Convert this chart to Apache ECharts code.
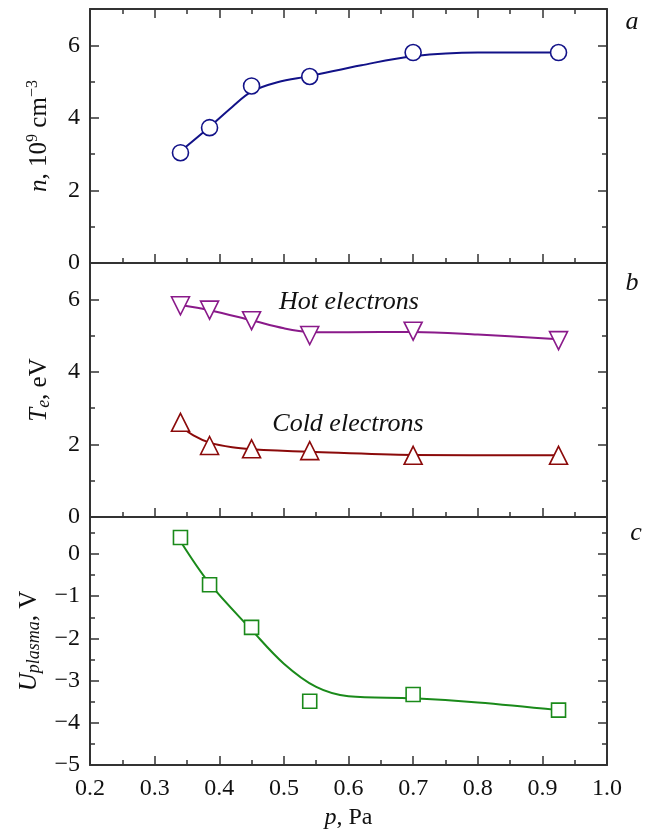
<!DOCTYPE html>
<html>
<head>
<meta charset="utf-8">
<script src="https://cdn.jsdelivr.net/npm/echarts@6/dist/echarts.min.js"></script>
<style>
  html, body { margin: 0; padding: 0; background: #fff; }
  #main { width: 647px; height: 832px; }
</style>
</head>
<body>
<div id="main"></div>
<script>
// measured points (pressure, Pa)
var pressure = [0.34, 0.385, 0.45, 0.54, 0.70, 0.925];
var density = [3.04, 3.73, 4.88, 5.14, 5.80, 5.80];
var hotTe = [5.82, 5.70, 5.41, 5.00, 5.12, 4.86];
var coldTe = [2.61, 1.97, 1.88, 1.83, 1.70, 1.70];
var uPlasma = [0.39, -0.73, -1.74, -3.49, -3.33, -3.70];

// fitted curves
var densityFitX = [0.34, 0.385, 0.42, 0.45, 0.49, 0.54, 0.62, 0.70, 0.80, 0.925];
var densityFitY = [3.08, 3.75, 4.30, 4.72, 4.98, 5.15, 5.45, 5.70, 5.80, 5.80];
var hotFitX = [0.34, 0.385, 0.45, 0.50, 0.54, 0.60, 0.70, 0.80, 0.925];
var hotFitY = [5.84, 5.70, 5.42, 5.20, 5.10, 5.09, 5.10, 5.03, 4.90];
var coldFitX = [0.34, 0.36, 0.385, 0.42, 0.45, 0.54, 0.70, 0.925];
var coldFitY = [2.50, 2.25, 2.05, 1.92, 1.87, 1.80, 1.71, 1.70];
var uFitX = [0.34, 0.385, 0.45, 0.50, 0.55, 0.60, 0.70, 0.80, 0.925];
var uFitY = [0.30, -0.70, -1.80, -2.60, -3.15, -3.37, -3.42, -3.52, -3.70];

var FONT = 'Liberation Serif';
var AXIS = '#333';
var cBlue = '#121288', cPurple = '#8a1a8a', cRed = '#8b0a0a', cGreen = '#1a8a1a';

function pairs(xs, ys) {
	return xs.map(function (x, i) { return [x, ys[i]]; });
}
function minus(v) {
	return String(v).replace('-', '\u2212');
}

var grids = [
	{ left: 90, right: 40, top: 9, height: 254, outerBoundsMode: 'none' },
	{ left: 90, right: 40, top: 263, height: 254, outerBoundsMode: 'none' },
	{ left: 90, right: 40, top: 517, height: 248, outerBoundsMode: 'none' }
];

var xAxes = [];
grids.forEach(function (g, i) {
	// bottom
	xAxes.push({
		type: 'value', gridIndex: i, position: 'bottom', min: 0.2, max: 1.0, interval: 0.1,
		axisLine: { onZero: false, lineStyle: { color: AXIS, width: 2 } },
		axisTick: { inside: true, length: 9, lineStyle: { color: AXIS, width: 1.5 } },
		minorTick: { show: true, splitNumber: 2, length: 5, lineStyle: { color: AXIS, width: 1.5 } },
		splitLine: { show: false },
		axisLabel: {
			show: i === 2, margin: 12, color: '#111', fontFamily: FONT, fontSize: 24,
			formatter: function (v) { return v.toFixed(1); }
		},
		name: i === 2 ? '{i|p}, Pa' : '',
		nameLocation: 'middle', nameGap: 41,
		nameTextStyle: { color: '#111', fontFamily: FONT, fontSize: 24, rich: { i: { fontStyle: 'italic', fontFamily: FONT, fontSize: 24 } } }
	});
	// top
	xAxes.push({
		type: 'value', gridIndex: i, position: 'top', min: 0.2, max: 1.0, interval: 0.1,
		axisLine: { onZero: false, lineStyle: { color: AXIS, width: 2 } },
		axisTick: { show: i === 0, inside: true, length: 9, lineStyle: { color: AXIS, width: 1.5 } },
		minorTick: { show: i === 0, splitNumber: 2, length: 5, lineStyle: { color: AXIS, width: 1.5 } },
		splitLine: { show: false },
		axisLabel: { show: false }
	});
});

var yRanges = [
	{ min: 0, max: 7, interval: 2, minor: 1 },
	{ min: 0, max: 7, interval: 2, minor: 1 },
	{ min: -5, max: 0.875, interval: 1, minor: 0.5 }
];
var yNames = [
	'{i|n}, 10{sup|9} cm{sup|\u22123}',
	'{i|T}{sub|e}, eV',
	'{i|U}{sub|plasma}, V'
];
var nameRich = {
	i: { fontStyle: 'italic', fontFamily: FONT, fontSize: 25, color: '#111' },
	sup: { fontFamily: FONT, fontSize: 16, verticalAlign: 'top', lineHeight: 15, color: '#111' },
	sub: { fontStyle: 'italic', fontFamily: FONT, fontSize: 18, verticalAlign: 'bottom', lineHeight: 15, color: '#111' }
};

var yAxes = [];
grids.forEach(function (g, i) {
	var r = yRanges[i];
	['left', 'right'].forEach(function (side) {
		// major ticks
		yAxes.push({
			type: 'value', gridIndex: i, position: side, min: r.min, max: r.max, interval: r.interval,
			axisLine: { show: true, onZero: false, lineStyle: { color: AXIS, width: 2 } },
			axisTick: { inside: true, length: 9, lineStyle: { color: AXIS, width: 1.5 } },
			splitLine: { show: false },
			axisLabel: {
				show: side === 'left', showMaxLabel: false, margin: 10, color: '#111',
				fontFamily: FONT, fontSize: 24, formatter: minus
			},
			name: side === 'left' ? yNames[i] : '',
			nameLocation: 'middle', nameRotate: 90, nameGap: 37,
			nameTextStyle: { color: '#111', fontFamily: FONT, fontSize: 25, lineHeight: 28, rich: nameRich }
		});
		// minor ticks
		yAxes.push({
			type: 'value', gridIndex: i, position: side, min: r.min, max: r.max, interval: r.minor,
			axisLine: { show: false, onZero: false },
			axisTick: { inside: true, length: 5, lineStyle: { color: AXIS, width: 1.5 } },
			splitLine: { show: false },
			axisLabel: { show: false }
		});
	});
});

function fitLine(xi, yi, xs, ys, color) {
	return {
		type: 'line', xAxisIndex: xi, yAxisIndex: yi, data: pairs(xs, ys),
		smooth: 0.35, showSymbol: false, symbol: 'none', silent: true,
		lineStyle: { color: color, width: 2 }, z: 2
	};
}
function points(xi, yi, ys, color, symbol, size, rotate) {
	return {
		type: 'scatter', xAxisIndex: xi, yAxisIndex: yi, data: pairs(pressure, ys),
		symbol: symbol, symbolSize: size, symbolRotate: rotate || 0,
		itemStyle: { color: '#fff', borderColor: color, borderWidth: 1.6, opacity: 1 }, z: 3
	};
}

var series = [
	fitLine(0, 0, densityFitX, densityFitY, cBlue),
	points(0, 0, density, cBlue, 'circle', 16),
	fitLine(2, 4, hotFitX, hotFitY, cPurple),
	points(2, 4, hotTe, cPurple, 'triangle', 18, 180),
	fitLine(2, 4, coldFitX, coldFitY, cRed),
	points(2, 4, coldTe, cRed, 'triangle', 18),
	fitLine(4, 8, uFitX, uFitY, cGreen),
	points(4, 8, uPlasma, cGreen, 'rect', 14)
];

function label(text, x, y, size) {
	return {
		type: 'text', x: x, y: y,
		style: { text: text, fill: '#111', font: 'italic ' + size + 'px "' + FONT + '"', textAlign: 'center', textVerticalAlign: 'middle' }
	};
}

var myChart = echarts.init(document.getElementById('main'), null, { renderer: 'canvas' });
myChart.setOption({
	animation: false,
	backgroundColor: '#fff',
	grid: grids,
	xAxis: xAxes,
	yAxis: yAxes,
	series: series,
	graphic: [
		label('a', 632, 22, 26),
		label('b', 632, 283, 26),
		label('c', 636, 533, 26),
		label('Hot electrons', 349, 302, 26),
		label('Cold electrons', 348, 424, 26)
	]
});
</script>
</body>
</html>
